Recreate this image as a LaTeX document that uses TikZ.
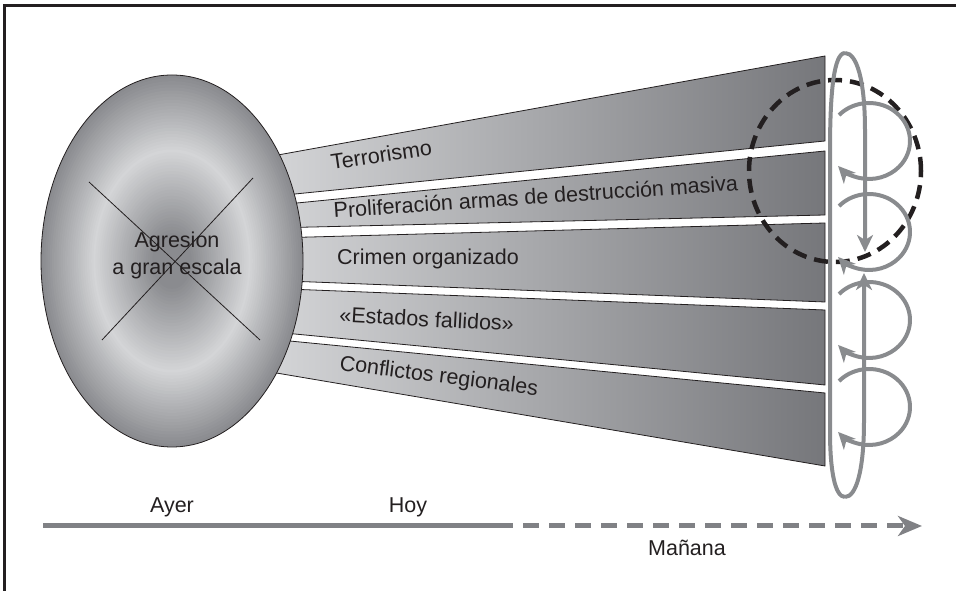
\documentclass[tikz,border=0pt]{standalone}
\usepackage{fontspec}
\setmainfont{Liberation Sans}
\usepackage{xcolor}
\usepackage{tikz}
\usetikzlibrary{
	positioning,     % Per posizionare i nodi
	arrows.meta,     % Per le punte (Stealth)
	calc,            % Per prolungare i bordi delle fasce
	shapes.geometric % Per il nodo ellittico
}
\definecolor{testo}{RGB}{35,31,32}
\definecolor{fasciachiara}{RGB}{214,215,217}
\definecolor{fasciascura}{RGB}{118,119,123}
\definecolor{grigioanello}{RGB}{137,139,142}
\definecolor{grigioasse}{RGB}{128,129,133}
\definecolor{ellscuro}{RGB}{138,139,143}
\definecolor{ellchiaro}{RGB}{212,213,215}

\begin{document}
\begin{tikzpicture}[x=1pt, y=1pt,
		fascia/.style={draw=testo, line width=0.8pt, left color=fasciachiara, right color=fasciascura},
		etichetta/.style={font=\fontsize{21.5}{27}\selectfont, text=testo, inner sep=0pt},
		grigio/.style={draw=grigioanello, line width=4pt},
		anello/.style={grigio, -{Stealth[length=17pt, width=16pt, inset=5pt]}},
		tratteggio/.style={draw=testo, line width=4.5pt, dash pattern=on 14pt off 8pt},
		asse/.style={draw=grigioasse, line width=5pt},
		cornice/.style={draw=testo, line width=3.5pt}]
		% Definizioni per le fasce
		\def\xL{300} % ascissa di riferimento a sinistra
		\def\xR{825} % bordo destro delle fasce
		
		\useasboundingbox (0,0) rectangle (956,591);
		
		% --- Cornice ---
		\draw[cornice] (4.5,0) -- (4.5,585.5) -- (956,585.5);
		
		% --- Fasce ---
		% alto sx / alto dx / basso sx / basso dx
		\foreach \tl/\tr/\bl/\br in {440/535/397.5/450, 388.3/440/363.7/376, 353.7/368/309.5/289,
			301.5/281/256.5/206, 249/198/214/125}
		\draw[fascia] ($(\xL,\tl)!-0.08!(\xR,\tr)$) -- (\xR,\tr) -- (\xR,\br)
		-- ($(\xL,\bl)!-0.08!(\xR,\br)$) -- cycle;
		
		% --- Ellisse ---
		\coordinate (centro) at (172,330);
		% sfumatura ad anelli: scuro al centro, chiaro a 0.6, scuro al bordo
		\foreach \i in {60,59,...,1}{
			\pgfmathsetmacro\r{\i/60}
			\pgfmathsetmacro\p{ifthenelse(\r<0.15,0,ifthenelse(\r<0.6,(\r-0.15)/0.45*100,(1-\r)/0.4*100))}
			\fill[ellchiaro!\p!ellscuro] (centro) ellipse [x radius=131*\r pt, y radius=186*\r pt];
		}
		\node[ellipse, draw=testo, line width=0.8pt, minimum width=262pt, minimum height=372pt,
		inner sep=0pt] (agresion) at (centro) {};
		% la X sopra l'ellisse
		\draw[testo, line width=0.8pt] (89,409) -- (260,251) (253,413) -- (102,251);
		\node[etichetta, align=center] (agresiontesto) at (177,336) {Agresion\\a gran escala};
		
		% --- Etichette delle fasce ---
		\node[etichetta, anchor=base west, rotate=8.5] (terrorismo) at (332,421) {Terrorismo};
		\node[etichetta, anchor=base west, rotate=3.9] (proliferacion) at (334,373)
		{Proliferación armas de destrucción masiva};
		\node[etichetta, anchor=base west] (crimen) at (337,326) {Crimen organizado};
		\node[etichetta, anchor=base west, rotate=-3] (estados) at (339,269) {«Estados fallidos»};
		\node[etichetta, anchor=base west, rotate=-7.3] (conflictos) at (339,221) {Conflictos regionales};
		
		% --- Cerchio tratteggiato ---
		\draw[tratteggio] (835,420) ellipse [x radius=86pt, y radius=91pt];
		
		% --- Anello verticale ---
		\coordinate (apice) at (845,538);
		\coordinate (fondo) at (845,94);
		\draw[grigio] (apice) .. controls (834,538) and (830,500) .. (830,440) -- (830,160)
		.. controls (830,120) and (835,94) .. (fondo);
		\draw[anello] (apice) .. controls (857,538) and (865,510) .. (865,460) -- (865,339);
		\draw[anello] (fondo) .. controls (856,94) and (864,120) .. (864,170) -- (864,318);
		
		% Cicli a destra
		\foreach \yc in {450,359,271,184}
		\draw[anello] ($(869,\yc)+(137:41pt and 38pt)$)
		arc[start angle=137, end angle=-139, x radius=41pt, y radius=38pt];
		
		% --- Asse del tempo ---
		\coordinate (ieri) at (43,65);
		\coordinate (oggi) at (497,65);
		\coordinate (domani) at (922,65);
		\draw[asse] (ieri) -- (oggi);
		\draw[asse, dash pattern=on 16pt off 10pt, -{Stealth[length=24pt, width=20pt, inset=7pt]}]
		(oggi) -- (domani);
		\node[etichetta, anchor=base] (ayer) at (172,78) {Ayer};
		\node[etichetta, anchor=base] (hoy) at (408,78) {Hoy};
		\node[etichetta, anchor=base] (manana) at (687,35) {Mañana};
\end{tikzpicture}
\end{document}
